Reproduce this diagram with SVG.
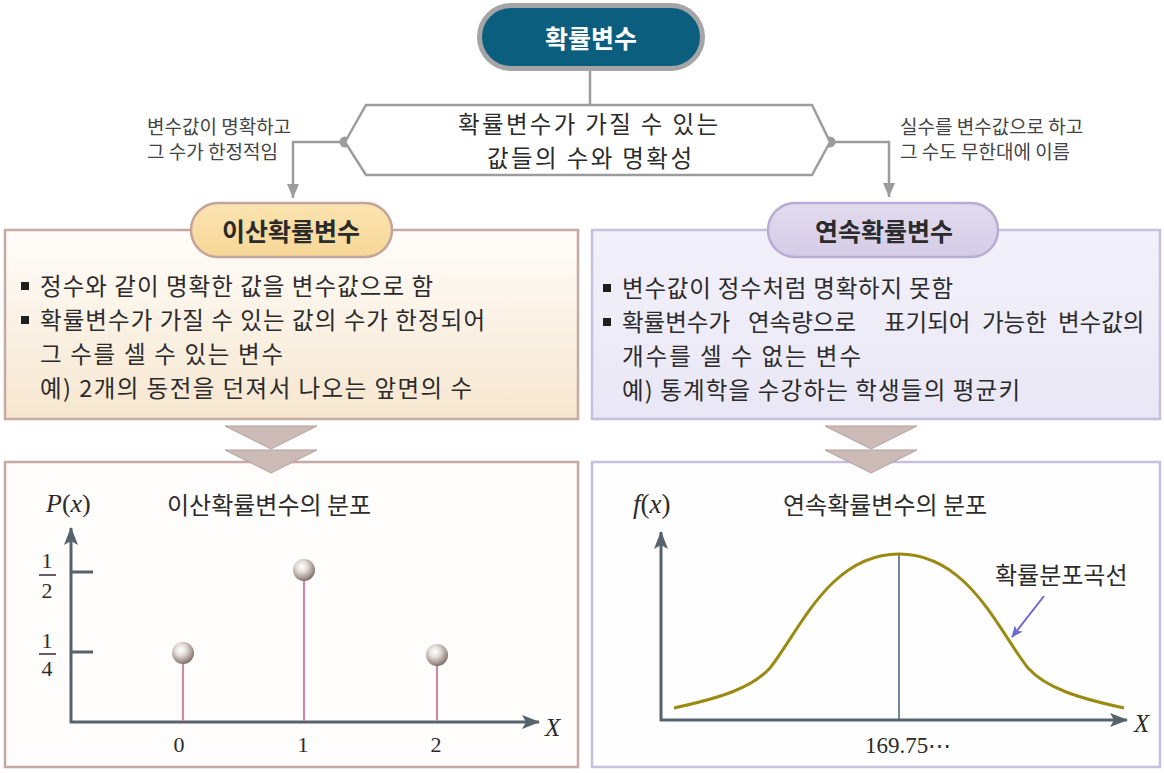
<svg xmlns="http://www.w3.org/2000/svg" width="1164" height="773" viewBox="0 0 1164 773">
<style>
.kr{font-family:"Noto Sans CJK KR","Noto Sans",sans-serif;fill:#2b2b2b}
.b{font-weight:bold}
.math{font-family:"Liberation Serif","Times New Roman",serif;fill:#2b2b2b}
.it{font-style:italic}
.conn{fill:none;stroke:#9c9c9c;stroke-width:2.5}
.axis{stroke:#56626c;stroke-width:3;fill:none}
.stem{stroke:#c98aa8;stroke-width:2.2}
.chev{fill:#cbbab6;stroke:#b49f9b;stroke-width:1}
.bul{fill:#1e1e1e}
.lab{font-size:19px;fill:#444}
.li{font-size:23.5px}
</style>
<defs>
<linearGradient id="gLeft" x1="0" y1="0" x2="0" y2="1">
<stop offset="0" stop-color="#fffdfa"/>
<stop offset="1" stop-color="#f6e6cf"/>
</linearGradient>
<linearGradient id="gRight" x1="0" y1="0" x2="0" y2="1">
<stop offset="0" stop-color="#f2f1fa"/>
<stop offset="1" stop-color="#e9e7f5"/>
</linearGradient>
<linearGradient id="gPillL" x1="0" y1="0" x2="0" y2="1">
<stop offset="0" stop-color="#fbe3b0"/>
<stop offset="1" stop-color="#f7d797"/>
</linearGradient>
<linearGradient id="gPillR" x1="0" y1="0" x2="0" y2="1">
<stop offset="0" stop-color="#e2dbef"/>
<stop offset="1" stop-color="#d5cce6"/>
</linearGradient>
<radialGradient id="ball" cx="0.4" cy="0.35" r="0.7">
<stop offset="0" stop-color="#ffffff"/>
<stop offset="0.35" stop-color="#e6dfdb"/>
<stop offset="0.8" stop-color="#9a8d88"/>
<stop offset="1" stop-color="#6c605c"/>
</radialGradient>
<marker id="arrG" viewBox="0 0 14 12" refX="14" refY="6" markerWidth="14" markerHeight="12" markerUnits="userSpaceOnUse" orient="auto">
<path d="M0,0 L14,6 L0,12 z" fill="#9c9c9c"/>
</marker>
<marker id="arrA" viewBox="0 0 18 14" refX="17" refY="7" markerWidth="18" markerHeight="14" markerUnits="userSpaceOnUse" orient="auto">
<path d="M0,0 L18,7 L0,14 L4,7 z" fill="#56626c"/>
</marker>
<marker id="arrB" viewBox="0 0 12 10" refX="11" refY="5" markerWidth="12" markerHeight="10" markerUnits="userSpaceOnUse" orient="auto">
<path d="M0,0 L12,5 L0,10 L3,5 z" fill="#6a6ad8"/>
</marker>
</defs>

<rect width="1164" height="773" fill="#ffffff"/>

<g id="connectors">
<line class="conn" x1="590" y1="70" x2="590" y2="105"/>
<path class="conn" d="M345,142 H293 V198" marker-end="url(#arrG)"/>
<path class="conn" d="M830,142 H889 V197" marker-end="url(#arrG)"/>
<circle cx="345" cy="142" r="5.5" fill="#9c9c9c"/>
<circle cx="830" cy="142" r="5.5" fill="#9c9c9c"/>
</g>

<g id="root">
<rect x="479.5" y="5.5" width="223" height="63" rx="31.5" fill="#0c5e7e" stroke="#a5a5a5" stroke-width="5"/>
<text class="kr b" x="591" y="48" font-size="25" text-anchor="middle" style="fill:#ffffff">확률변수</text>
</g>

<g id="criterion">
<polygon points="345,142 366,105 812,105 830,142 812,175 366,175" fill="#ffffff" stroke="#9c9c9c" stroke-width="2.5"/>
<text class="kr" x="458" y="133" font-size="23.5" textLength="260" lengthAdjust="spacing">확률변수가 가질 수 있는</text>
<text class="kr" x="487" y="167" font-size="23.5" textLength="205" lengthAdjust="spacing">값들의 수와 명확성</text>
</g>

<g id="label-left">
<text class="kr lab" x="147" y="134">변수값이 명확하고</text>
<text class="kr lab" x="147" y="159">그 수가 한정적임</text>
</g>
<g id="label-right">
<text class="kr lab" x="900" y="134">실수를 변수값으로 하고</text>
<text class="kr lab" x="900" y="159">그 수도 무한대에 이름</text>
</g>

<g id="discrete">
<rect x="5" y="230" width="573" height="189" fill="url(#gLeft)" stroke="#c6a9a3" stroke-width="2.5"/>
<rect x="191" y="203" width="201" height="54" rx="27" fill="url(#gPillL)" stroke="#c4a39a" stroke-width="2.5"/>
<text class="kr b" x="291" y="241" font-size="25" text-anchor="middle">이산확률변수</text>
<rect class="bul" x="21" y="282" width="8" height="8"/>
<text class="kr li" x="40" y="295" textLength="393" lengthAdjust="spacing">정수와 같이 명확한 값을 변수값으로 함</text>
<rect class="bul" x="21" y="316" width="8" height="8"/>
<text class="kr li" x="40" y="329" textLength="445" lengthAdjust="spacing">확률변수가 가질 수 있는 값의 수가 한정되어</text>
<text class="kr li" x="40" y="363" textLength="243" lengthAdjust="spacing">그 수를 셀 수 있는 변수</text>
<text class="kr li" x="40" y="397" textLength="432" lengthAdjust="spacing">예) 2개의 동전을 던져서 나오는 앞면의 수</text>
</g>

<g id="continuous">
<rect x="592" y="230" width="568" height="189" fill="url(#gRight)" stroke="#c7bfe0" stroke-width="2.5"/>
<rect x="768" y="203" width="230" height="54" rx="27" fill="url(#gPillR)" stroke="#b8acd4" stroke-width="2.5"/>
<text class="kr b" x="884" y="241" font-size="25" text-anchor="middle">연속확률변수</text>
<rect class="bul" x="603" y="284" width="8" height="8"/>
<text class="kr li" x="622" y="297" textLength="331" lengthAdjust="spacing">변수값이 정수처럼 명확하지 못함</text>
<rect class="bul" x="603" y="318" width="8" height="8"/>
<text class="kr li" y="331"><tspan x="622">확률변수가</tspan><tspan x="748">연속량으로</tspan><tspan x="884">표기되어</tspan><tspan x="982">가능한</tspan><tspan x="1058">변수값의</tspan></text>
<text class="kr li" x="622" y="365" textLength="239" lengthAdjust="spacing">개수를 셀 수 없는 변수</text>
<text class="kr li" x="622" y="399" textLength="398" lengthAdjust="spacing">예) 통계학을 수강하는 학생들의 평균키</text>
</g>

<g id="discrete-chart">
<rect x="5" y="462" width="573" height="305" fill="#fefdfc" stroke="#c6a9a3" stroke-width="2.5"/>
<text class="math" x="46" y="512" font-size="26"><tspan class="it">P</tspan>(<tspan class="it">x</tspan>)</text>
<text class="kr" x="167" y="514" font-size="24">이산확률변수의 분포</text>
<line class="axis" x1="71" y1="723" x2="71" y2="528" marker-end="url(#arrA)"/>
<line class="axis" x1="70" y1="722" x2="539" y2="722" marker-end="url(#arrA)"/>
<text class="math it" x="545" y="736" font-size="25">X</text>
<line class="axis" x1="71" y1="572" x2="93" y2="572"/>
<line class="axis" x1="71" y1="652" x2="93" y2="652"/>
<text class="math" x="47" y="568" font-size="22" text-anchor="middle">1</text>
<line x1="39" y1="575" x2="56" y2="575" stroke="#2b2b2b" stroke-width="1.5"/>
<text class="math" x="47" y="598" font-size="22" text-anchor="middle">2</text>
<text class="math" x="47" y="648" font-size="22" text-anchor="middle">1</text>
<line x1="39" y1="654" x2="56" y2="654" stroke="#2b2b2b" stroke-width="1.5"/>
<text class="math" x="47" y="676" font-size="22" text-anchor="middle">4</text>
<line class="stem" x1="183" y1="654" x2="183" y2="721"/>
<line class="stem" x1="304" y1="570" x2="304" y2="721"/>
<line class="stem" x1="437" y1="656" x2="437" y2="721"/>
<circle cx="183" cy="653" r="11" fill="url(#ball)"/>
<circle cx="304" cy="570" r="11" fill="url(#ball)"/>
<circle cx="437" cy="655" r="11" fill="url(#ball)"/>
<text class="math" x="179" y="752" font-size="22" text-anchor="middle">0</text>
<text class="math" x="303" y="752" font-size="22" text-anchor="middle">1</text>
<text class="math" x="436" y="752" font-size="22" text-anchor="middle">2</text>
</g>

<g id="continuous-chart">
<rect x="592" y="462" width="568" height="305" fill="#fefefe" stroke="#c7bfe0" stroke-width="2.5"/>
<text class="math" x="633" y="513" font-size="27"><tspan class="it">f</tspan>(<tspan class="it">x</tspan>)</text>
<text class="kr" x="783" y="514" font-size="24">연속확률변수의 분포</text>
<line x1="899" y1="554" x2="899" y2="720" stroke="#7088a0" stroke-width="2"/>
<path d="M674,708 C720,698 752,688 770,668 C800,630 830,554 899,554 C968,554 998,630 1028,668 C1046,688 1078,698 1124,708" fill="none" stroke="#9a8a12" stroke-width="3"/>
<line class="axis" x1="661" y1="721" x2="661" y2="532" marker-end="url(#arrA)"/>
<line class="axis" x1="660" y1="720" x2="1127" y2="720" marker-end="url(#arrA)"/>
<text class="math it" x="1134" y="732" font-size="25">X</text>
<text class="math" x="908" y="753" font-size="23" text-anchor="middle">169.75⋯</text>
<text class="kr" x="995" y="584" font-size="24">확률분포곡선</text>
<line x1="1044" y1="596" x2="1012" y2="637" stroke="#6a6ad8" stroke-width="2" marker-end="url(#arrB)"/>
</g>

<g id="down-arrows">
<polygon class="chev" points="225,426 317,426 271,449"/>
<polygon class="chev" points="225,450 317,450 271,473"/>
<polygon class="chev" points="825,426 917,426 871,449"/>
<polygon class="chev" points="825,450 917,450 871,473"/>
</g>
</svg>
